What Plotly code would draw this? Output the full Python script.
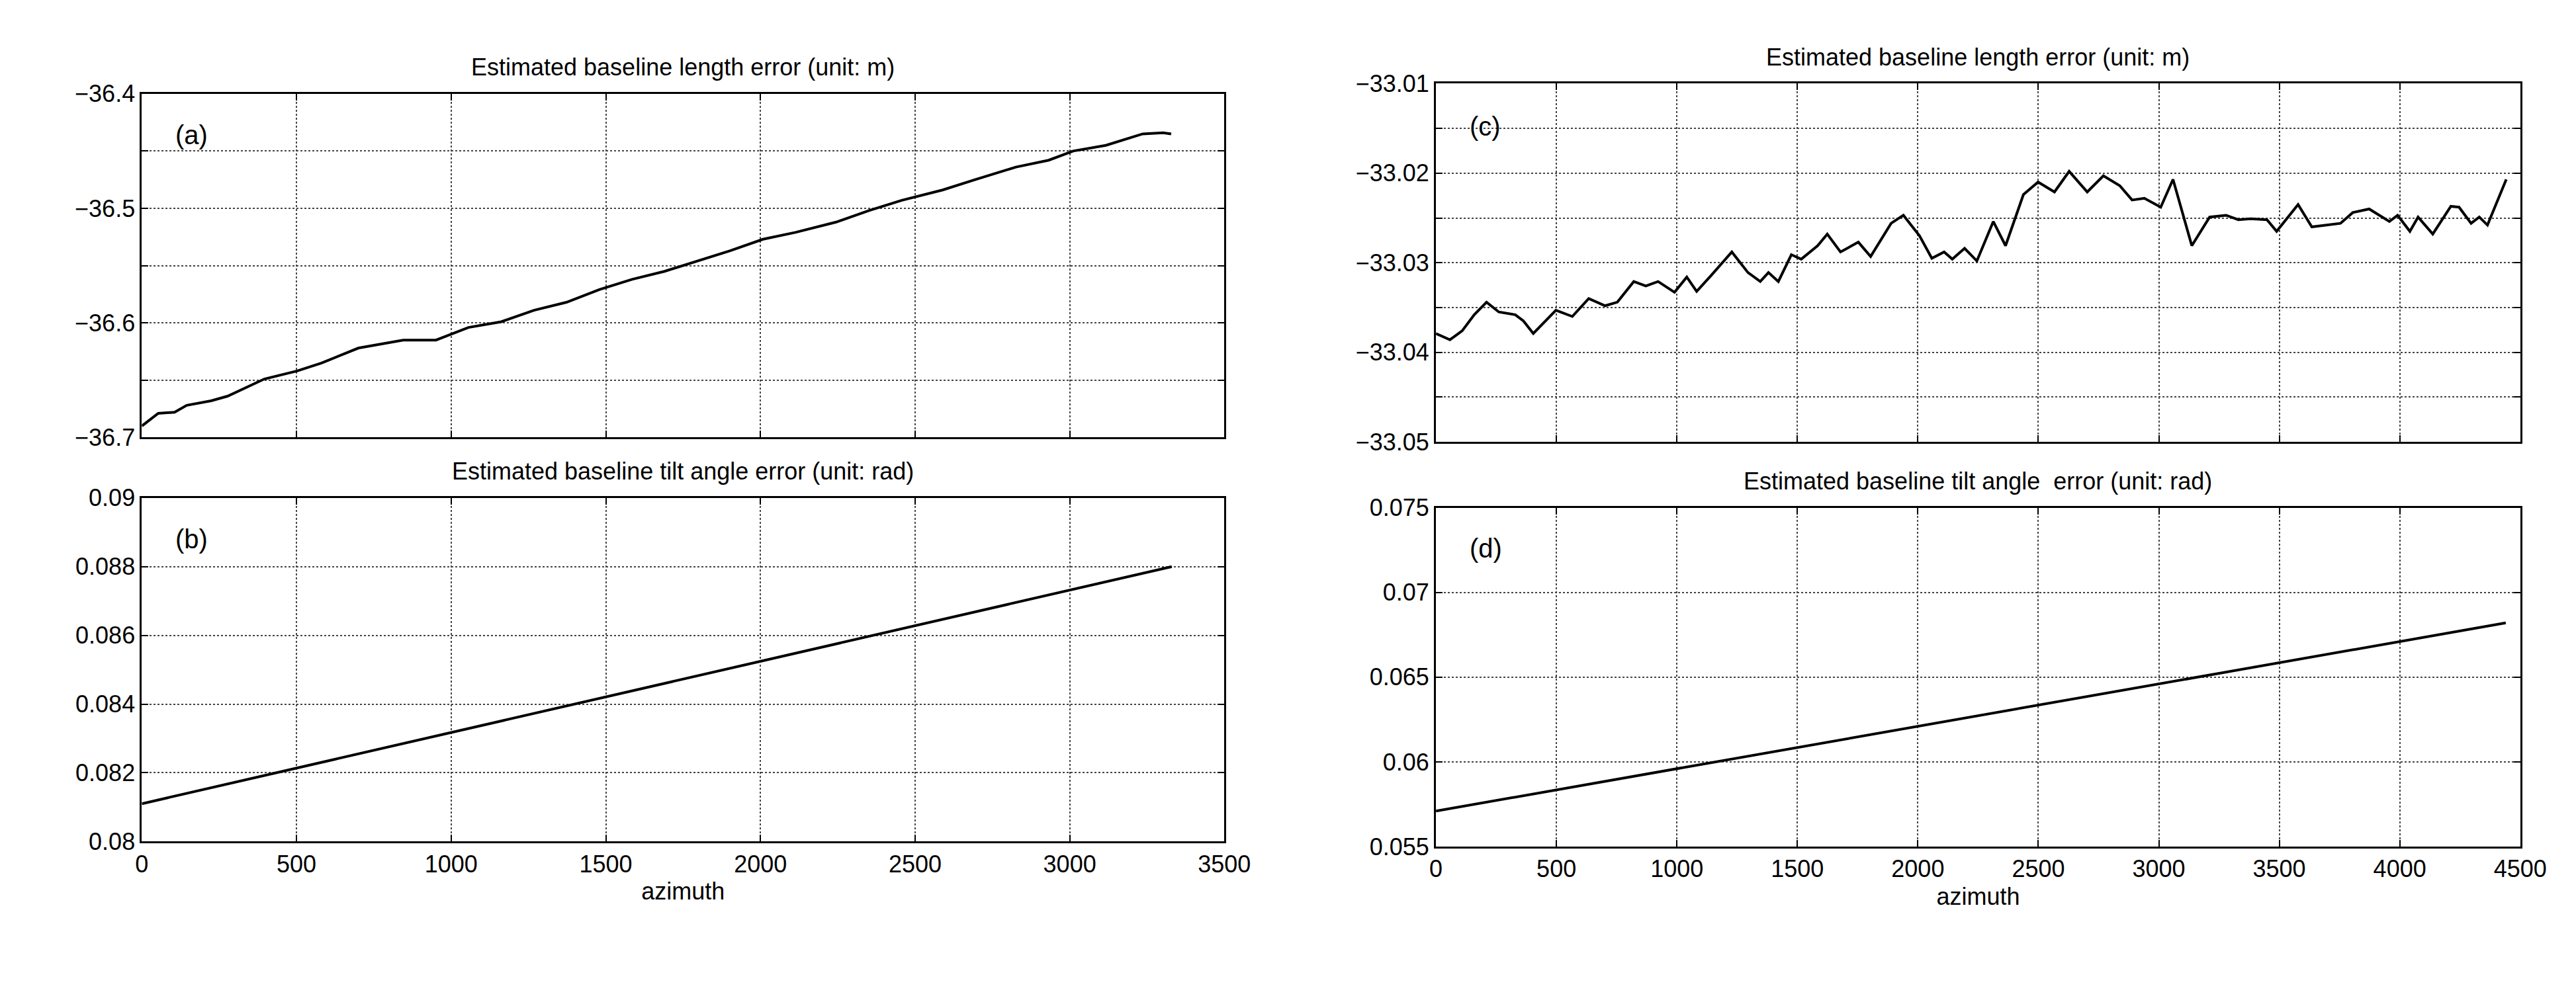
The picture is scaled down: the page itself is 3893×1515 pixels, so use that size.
import plotly.graph_objects as go

# panel (a): baseline length error, scene 1
az_a = [0, 53, 106, 145, 224, 277, 396, 502, 581, 700, 845, 951, 1056, 1162, 1268, 1373,
        1479, 1585, 1690, 1796, 1902, 2008, 2113, 2245, 2351, 2457, 2589, 2694, 2826, 2932,
        3011, 3117, 3236, 3302, 3328]
len_a = [-36.690, -36.679, -36.678, -36.672, -36.668, -36.664, -36.649, -36.642, -36.635,
         -36.622, -36.615, -36.615, -36.604, -36.599, -36.589, -36.582, -36.571, -36.562,
         -36.555, -36.546, -36.537, -36.527, -36.521, -36.512, -36.502, -36.493, -36.484,
         -36.475, -36.464, -36.458, -36.450, -36.445, -36.435, -36.434, -36.435]

# panel (b): tilt angle error, scene 1
az_b = [0, 3330]
tilt_b = [0.0811, 0.0880]

# panel (c): baseline length error, scene 2
az_c = [0, 58, 109, 159, 210, 261, 329, 363, 404, 448, 498, 566, 634, 702, 753, 821, 871,
        922, 990, 1041, 1082, 1143, 1228, 1295, 1346, 1380, 1421, 1475, 1516, 1584, 1624,
        1679, 1753, 1804, 1889, 1940, 2007, 2058, 2109, 2143, 2194, 2245, 2313, 2364, 2438,
        2499, 2567, 2628, 2703, 2770, 2838, 2889, 2940, 3008, 3059, 3137, 3211, 3279, 3330,
        3381, 3449, 3489, 3578, 3635, 3754, 3805, 3873, 3957, 3991, 4042, 4076, 4137, 4212,
        4246, 4296, 4330, 4364, 4442]
len_c = [-33.0379, -33.0386, -33.0376, -33.0358, -33.0344, -33.0355, -33.0358, -33.0365,
         -33.0379, -33.0367, -33.0353, -33.0360, -33.0340, -33.0348, -33.0344, -33.0321,
         -33.0326, -33.0321, -33.0333, -33.0316, -33.0332, -33.0314, -33.0288, -33.0311,
         -33.0321, -33.0311, -33.0321, -33.0291, -33.0296, -33.0281, -33.0268, -33.0288,
         -33.0277, -33.0293, -33.0256, -33.0247, -33.0270, -33.0295, -33.0288, -33.0296,
         -33.0284, -33.0298, -33.0254, -33.0281, -33.0224, -33.0210, -33.0221, -33.0198,
         -33.0221, -33.0203, -33.0214, -33.0230, -33.0228, -33.0238, -33.0207, -33.0281,
         -33.0249, -33.0247, -33.0252, -33.0251, -33.0252, -33.0265, -33.0235, -33.0260,
         -33.0256, -33.0244, -33.0240, -33.0254, -33.0247, -33.0265, -33.0249, -33.0268,
         -33.0237, -33.0238, -33.0256, -33.0249, -33.0258, -33.0207]

# panel (d): tilt angle error, scene 2
az_d = [0, 4440]
tilt_d = [0.0571, 0.0682]

titles = ["Estimated baseline length error (unit: m)",
          "Estimated baseline tilt angle error (unit: rad)",
          "Estimated baseline length error (unit: m)",
          "Estimated baseline tilt angle  error (unit: rad)"]
labels = ["(a)", "(b)", "(c)", "(d)"]

FONT = "Liberation Sans Narrow, Liberation Sans, Arial"
fs = 36


def sfx(i):
    return "" if i == 0 else str(i+1)


fig = go.Figure()
data = [(az_a, len_a), (az_b, tilt_b), (az_c, len_c), (az_d, tilt_d)]
for i, (x, y) in enumerate(data):
    fig.add_trace(go.Scatter(x=x, y=y, mode="lines", xaxis="x" + sfx(i), yaxis="y" + sfx(i),
                             line=dict(color="black", width=4), showlegend=False))

xdom = [[0.0511, 0.4768], [0.0511, 0.4768], [0.560, 0.9864], [0.560, 0.9864]]
ydom = [[0.5703, 0.9228], [0.1558, 0.5083], [0.5657, 0.9333], [0.1505, 0.4983]]
xr = [[0, 3500], [0, 3500], [0, 4500], [0, 4500]]
yr = [[-36.7, -36.4], [0.08, 0.09], [-33.05, -33.01], [0.055, 0.075]]
ydt = [0.1, 0.002, 0.01, 0.005]
ymin = [0.05, None, 0.005, None]
fmt = [".1f", "", ".2f", ""]

axcommon = dict(showline=True, linecolor="black", linewidth=3, mirror="ticks",
                ticks="inside", ticklen=10, tickcolor="black", tickwidth=2,
                showgrid=True, gridcolor="#444", gridwidth=2, griddash="dot",
                zeroline=False, tickfont=dict(family=FONT, size=fs, color="black"))
lay = {}
for i in range(4):
    n = sfx(i)
    xa = dict(axcommon, domain=xdom[i], range=xr[i], dtick=500, tick0=0,
              anchor="y" + n, showticklabels=(i in (1, 3)))
    ya = dict(axcommon, domain=ydom[i], range=yr[i], dtick=ydt[i], tick0=yr[i][0],
              anchor="x" + n, tickformat=fmt[i])
    if ymin[i]:
        ya["minor"] = dict(dtick=ymin[i], tick0=yr[i][0], showgrid=True, gridcolor="#444",
                           gridwidth=2, griddash="dot", ticks="inside", ticklen=10,
                           tickcolor="black")
    if i in (1, 3):
        xa["title"] = dict(text="azimuth", font=dict(family=FONT, size=fs, color="black"),
                           standoff=10)
    lay["xaxis" + n] = xa
    lay["yaxis" + n] = ya

fig.update_layout(**lay)

ann = []
for i in range(4):
    ann.append(dict(text=titles[i], xref="paper", yref="paper",
                    x=sum(xdom[i]) / 2, y=ydom[i][1] + 0.012, xanchor="center", yanchor="bottom",
                    showarrow=False, font=dict(family=FONT, size=fs, color="black")))
    ann.append(dict(text=labels[i], xref="x%s domain" % sfx(i), yref="y%s domain" % sfx(i),
                    x=0.03, y=0.88, xanchor="left", yanchor="middle", showarrow=False,
                    font=dict(family=FONT, size=fs + 4, color="black")))

fig.update_layout(annotations=ann, width=3893, height=1515,
                  margin=dict(l=0, r=0, t=0, b=0),
                  plot_bgcolor="white", paper_bgcolor="white")

fig.write_html("out.html")
